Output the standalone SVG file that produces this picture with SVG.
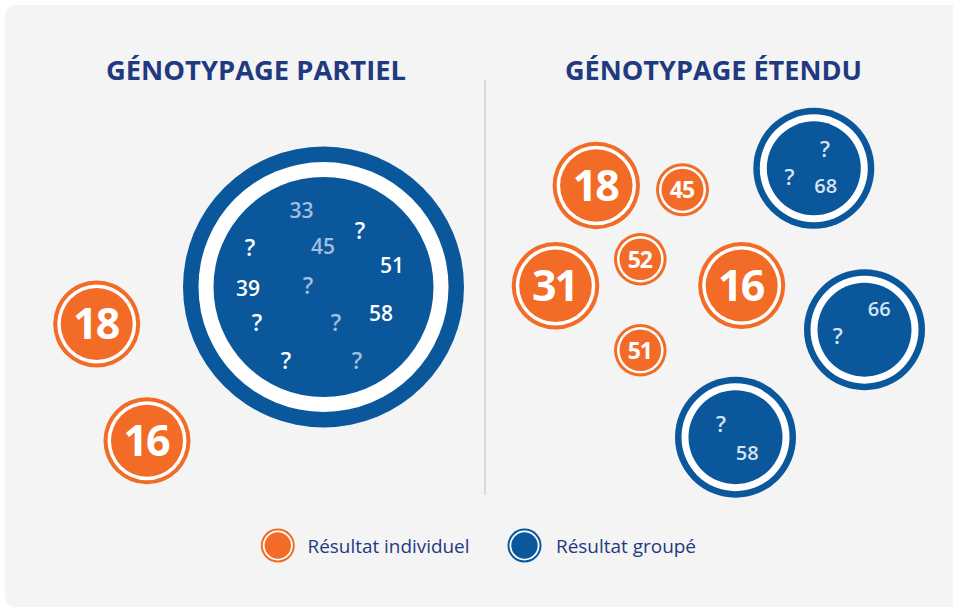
<svg xmlns="http://www.w3.org/2000/svg" width="953" height="610" viewBox="0 0 953 610">
  <defs>
    <style>
      .title { font-family: "Open Sans", "Liberation Sans", sans-serif; font-weight: 700; font-size: 27px; fill: #1f3a80; text-anchor: middle; }
      .legend { font-family: "Open Sans", "Liberation Sans", sans-serif; font-weight: 400; font-size: 18px; fill: #1f3a80; }
      .num { font-family: "Open Sans", "Liberation Sans", sans-serif; font-weight: 700; fill: #ffffff; text-anchor: middle; }
      .big { font-size: 43px; letter-spacing: -2px; }
      .small { font-size: 23px; letter-spacing: -1px; }
      .in { font-family: "Open Sans", "Liberation Sans", sans-serif; font-weight: 600; font-size: 21px; text-anchor: middle; }
      .q { font-size: 23px; }
      .w { fill: #ffffff; }
      .m { fill: #a3bfdc; }
      .l { fill: #d6e3f1; }
      .or { fill: #f26b27; }
      .bl { fill: #0a579c; }
      .ring { fill: #ffffff; }
    </style>
  </defs>

  <!-- panel background -->
  <rect x="5" y="5" width="960" height="602" rx="10" fill="#f4f4f4"/>

  <!-- headings -->
  <text class="title" x="256" y="80" textLength="300" lengthAdjust="spacingAndGlyphs">GÉNOTYPAGE PARTIEL</text>
  <text class="title" x="713.5" y="80" textLength="297" lengthAdjust="spacingAndGlyphs">GÉNOTYPAGE ÉTENDU</text>

  <!-- divider between the two panels -->
  <g id="connectors">
    <line x1="485" y1="80" x2="485" y2="495" stroke="#dadada" stroke-width="2"/>
  </g>

  <!-- partial genotyping: pooled result -->
  <g id="pool-partiel">
    <circle class="bl" cx="323.5" cy="287" r="140.5"/>
    <circle class="ring" cx="323.5" cy="287" r="125"/>
    <circle class="bl" cx="323.5" cy="287" r="110"/>
    <text class="in m" x="301.5" y="218">33</text>
    <text class="in q w" x="360" y="239">?</text>
    <text class="in q w" x="250" y="256">?</text>
    <text class="in m" x="323" y="254">45</text>
    <text class="in w" x="392" y="273">51</text>
    <text class="in w" x="248" y="296">39</text>
    <text class="in q m" x="308" y="294">?</text>
    <text class="in q w" x="257" y="331">?</text>
    <text class="in q m" x="336" y="331">?</text>
    <text class="in w" x="381" y="321">58</text>
    <text class="in q w" x="286" y="369">?</text>
    <text class="in q m" x="357" y="369">?</text>
  </g>

  <g id="p-18">
    <circle class="or" cx="96.7" cy="324" r="43.5"/>
    <circle class="ring" cx="96.7" cy="324" r="39.5"/>
    <circle class="or" cx="96.7" cy="324" r="36"/>
    <text class="num big" x="95.7" y="339">18</text>
  </g>
  <g id="p-16">
    <circle class="or" cx="147" cy="440.7" r="43.5"/>
    <circle class="ring" cx="147" cy="440.7" r="39.5"/>
    <circle class="or" cx="147" cy="440.7" r="36"/>
    <text class="num big" x="146" y="455.7">16</text>
  </g>

  <!-- extended genotyping: individual results -->
  <g id="e-18">
    <circle class="or" cx="596.3" cy="185.5" r="43.7"/>
    <circle class="ring" cx="596.3" cy="185.5" r="39.7"/>
    <circle class="or" cx="596.3" cy="185.5" r="36.2"/>
    <text class="num big" x="595.3" y="200.5">18</text>
  </g>
  <g id="e-31">
    <circle class="or" cx="555.5" cy="285.8" r="43.8"/>
    <circle class="ring" cx="555.5" cy="285.8" r="39.8"/>
    <circle class="or" cx="555.5" cy="285.8" r="36.3"/>
    <text class="num big" x="554.5" y="300.8">31</text>
  </g>
  <g id="e-16">
    <circle class="or" cx="741.7" cy="285.5" r="43.5"/>
    <circle class="ring" cx="741.7" cy="285.5" r="39.5"/>
    <circle class="or" cx="741.7" cy="285.5" r="36"/>
    <text class="num big" x="740.7" y="300.5">16</text>
  </g>
  <g id="e-45">
    <circle class="or" cx="682.5" cy="189.7" r="26.5"/>
    <circle class="ring" cx="682.5" cy="189.7" r="23.5"/>
    <circle class="or" cx="682.5" cy="189.7" r="21"/>
    <text class="num small" x="682" y="198">45</text>
  </g>
  <g id="e-52">
    <circle class="or" cx="640.3" cy="259.2" r="26.3"/>
    <circle class="ring" cx="640.3" cy="259.2" r="23.3"/>
    <circle class="or" cx="640.3" cy="259.2" r="20.8"/>
    <text class="num small" x="639.8" y="267.5">52</text>
  </g>
  <g id="e-51">
    <circle class="or" cx="640.3" cy="350.3" r="26.3"/>
    <circle class="ring" cx="640.3" cy="350.3" r="23.3"/>
    <circle class="or" cx="640.3" cy="350.3" r="20.8"/>
    <text class="num small" x="639.8" y="358.6">51</text>
  </g>

  <!-- extended genotyping: pooled results -->
  <g id="e-pool-68">
    <circle class="bl" cx="813.8" cy="168.3" r="60.5"/>
    <circle class="ring" cx="813.8" cy="168.3" r="54"/>
    <circle class="bl" cx="813.8" cy="168.3" r="47"/>
    <text class="in l" x="825" y="157" style="font-size:22px">?</text>
    <text class="in l" x="789.5" y="185" style="font-size:22px">?</text>
    <text class="in l" x="825.7" y="193" style="font-size:20px">68</text>
  </g>
  <g id="e-pool-66">
    <circle class="bl" cx="864.5" cy="329.7" r="60.5"/>
    <circle class="ring" cx="864.5" cy="329.7" r="54"/>
    <circle class="bl" cx="864.5" cy="329.7" r="47"/>
    <text class="in l" x="879.3" y="315.5" style="font-size:20px">66</text>
    <text class="in l" x="837.7" y="343.5" style="font-size:22px">?</text>
  </g>
  <g id="e-pool-58">
    <circle class="bl" cx="735.5" cy="437.2" r="60.5"/>
    <circle class="ring" cx="735.5" cy="437.2" r="54"/>
    <circle class="bl" cx="735.5" cy="437.2" r="47"/>
    <text class="in l" x="721" y="431.5" style="font-size:22px">?</text>
    <text class="in l" x="747.3" y="460" style="font-size:20px">58</text>
  </g>

  <!-- legend -->
  <g id="legend-individuel">
    <circle class="or" cx="277.8" cy="545.5" r="17"/>
    <circle class="ring" cx="277.8" cy="545.5" r="15"/>
    <circle class="or" cx="277.8" cy="545.5" r="13.2"/>
    <text class="legend" x="307.5" y="553" textLength="162" lengthAdjust="spacingAndGlyphs">Résultat individuel</text>
  </g>
  <g id="legend-groupe">
    <circle class="bl" cx="524.5" cy="545.5" r="17"/>
    <circle class="ring" cx="524.5" cy="545.5" r="15"/>
    <circle class="bl" cx="524.5" cy="545.5" r="13.2"/>
    <text class="legend" x="556" y="553" textLength="140" lengthAdjust="spacingAndGlyphs">Résultat groupé</text>
  </g>
</svg>
